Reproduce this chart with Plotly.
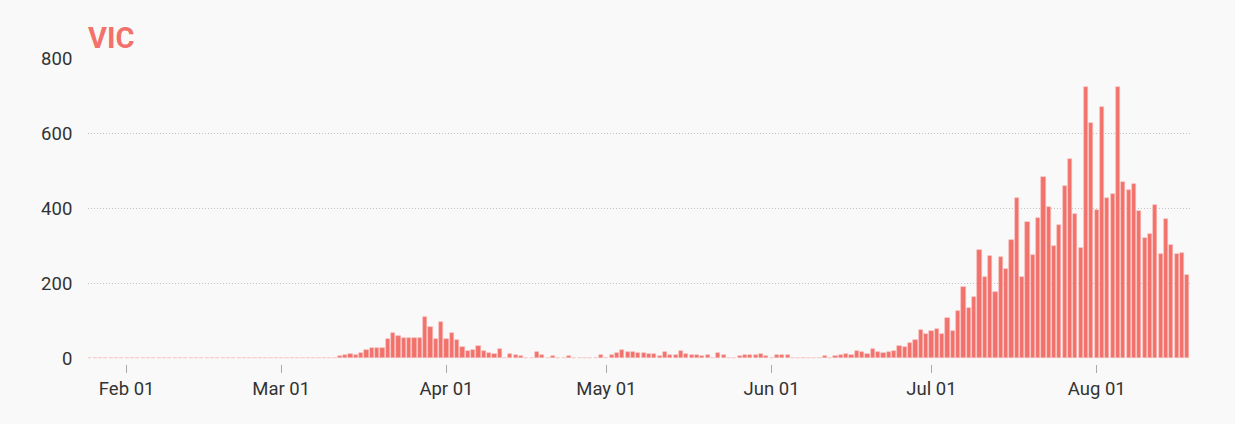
import pandas as pd
import plotly.graph_objects as go

# Daily new cases, Victoria 2020
jan_cases = [1, 0, 0, 0, 1, 1, 0]  # Jan 25 - Jan 31
feb_cases = [1] + [0] * 28
mar_cases = [2, 0, 0, 0, 0, 0, 0, 0, 0, 0, 0,
             6, 9, 12, 8, 14, 22, 27, 28, 28, 51, 67, 59, 55, 54, 53, 53, 111, 84, 52, 96]
apr_cases = [51, 68, 49, 30, 20, 22, 32, 20, 15, 12, 24, 0, 12, 9, 7, 0, 0, 17, 10, 0,
             6, 0, 0, 7, 0, 0, 0, 0, 0, 8]
may_cases = [0, 8, 13, 22, 17, 17, 14, 13, 11, 11, 7, 17, 8, 10, 20, 12, 8, 9, 5, 9,
             0, 13, 10, 0, 0, 6, 9, 10, 8, 12, 7]
jun_cases = [0, 10, 8, 9, 0, 1, 0, 0, 1, 0, 7, 0, 7, 8, 11, 8, 20, 16, 12, 24,
             18, 15, 16, 19, 32, 29, 40, 48, 75, 64]
jul_cases = [73, 77, 66, 108, 74, 127, 191, 134, 165, 288, 216, 273, 177, 270, 238, 317,
             428, 217, 363, 275, 374, 484, 403, 300, 357, 459, 532, 384, 295, 723, 627]
aug_cases = [397, 671, 429, 439, 725, 471, 450, 466, 394, 322, 331, 410, 278, 372, 303,
             279, 282, 222]

month_starts = ["2020-01-25", "2020-02-01", "2020-03-01", "2020-04-01",
                "2020-05-01", "2020-06-01", "2020-07-01", "2020-08-01"]
month_values = [jan_cases, feb_cases, mar_cases, apr_cases,
                may_cases, jun_cases, jul_cases, aug_cases]
y_ticks = [0, 200, 400, 600, 800]

dates = []
values = []
for start, vals in zip(month_starts, month_values):
    dates.extend(pd.date_range(start, periods=len(vals), freq="D"))
    values.extend(vals)

RED = "#F2716B"
BG = "#F9F9F9"
DAY_MS = 24 * 3600 * 1000
FONT = "Roboto, sans-serif"

fig = go.Figure(go.Bar(
    x=dates, y=values,
    marker=dict(color=RED, line=dict(color="rgba(250,190,186,0.9)", width=0.6)),
    width=0.78 * DAY_MS,
    hoverinfo="x+y",
))

fig.update_layout(
    width=1235, height=424,
    paper_bgcolor=BG, plot_bgcolor=BG,
    margin=dict(l=88, r=45, t=58, b=60),
    showlegend=False,
    bargap=0,
    font=dict(family=FONT, size=18.5, color="#333333"),
    title=dict(text="<b>VIC</b>", x=0, xref="paper", xanchor="left",
               y=1 - 38.0 / 424, yref="container", yanchor="middle",
               font=dict(size=29, color=RED, family=FONT)),
)

fig.update_yaxes(
    range=[-1.5, 801.5], domain=[0.0167, 1],
    tickvals=y_ticks,
    showgrid=True, gridcolor="#C4C4C4", griddash="1px,2px", gridwidth=1,
    zeroline=False, showline=False,
    ticks="outside", ticklen=11, tickcolor="rgba(0,0,0,0)",
    tickfont=dict(size=18.5, color="#333333"),
)

fig.update_xaxes(
    type="date",
    range=["2020-01-24 18:00", "2020-08-18 12:00"],
    anchor="free", position=0,
    tick0="2020-02-01", dtick="M1", tickformat="%b %d",
    showgrid=False, zeroline=False, showline=False,
    ticks="outside", ticklen=8, tickwidth=1, tickcolor="#AAAAAA",
    tickfont=dict(size=18.5, color="#333333"),
)

fig.write_html(
    "out.html",
    config={"displayModeBar": False},
    post_script="document.body.style.margin='0';document.body.style.background='#F9F9F9';",
)
